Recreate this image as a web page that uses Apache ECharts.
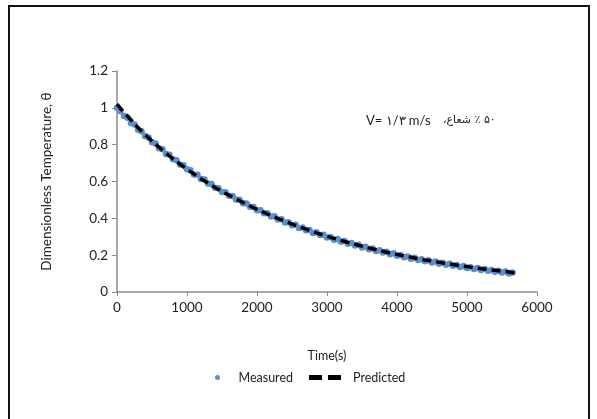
<!DOCTYPE html>
<html>
<head>
<meta charset="utf-8">
<script src="https://cdn.jsdelivr.net/npm/echarts@6/dist/echarts.min.js"></script>
<style>html,body{margin:0;padding:0;background:#fff}#c{width:597px;height:419px}</style>
</head>
<body>
<div id="c"></div>
<script>
// Measured data (time in s, dimensionless temperature)
const measuredTime = [0,50,100,150,200,250,300,350,400,450,500,550,600,650,700,750,800,850,900,950,
1000,1050,1100,1150,1200,1250,1300,1350,1400,1450,1500,1550,1600,1650,1700,1750,1800,1850,1900,1950,
2000,2050,2100,2150,2200,2250,2300,2350,2400,2450,2500,2550,2600,2650,2700,2750,2800,2850,2900,2950,
3000,3050,3100,3150,3200,3250,3300,3350,3400,3450,3500,3550,3600,3650,3700,3750,3800,3850,3900,3950,
4000,4050,4100,4150,4200,4250,4300,4350,4400,4450,4500,4550,4600,4650,4700,4750,4800,4850,4900,4950,
5000,5050,5100,5150,5200,5250,5300,5350,5400,5450,5500,5550,5600,5650];
const measuredTheta = [1.000,0.982,0.955,0.946,0.918,0.909,0.881,0.873,0.847,0.839,0.813,0.807,0.781,0.775,0.750,0.745,0.721,0.716,0.692,0.688,
0.666,0.661,0.638,0.636,0.613,0.611,0.589,0.587,0.566,0.564,0.543,0.542,0.522,0.521,0.502,0.501,0.482,0.481,0.463,0.462,
0.444,0.444,0.427,0.427,0.410,0.411,0.394,0.395,0.378,0.379,0.363,0.365,0.348,0.350,0.335,0.337,0.321,0.324,0.309,0.311,
0.296,0.299,0.284,0.288,0.273,0.277,0.262,0.266,0.252,0.256,0.242,0.246,0.232,0.236,0.223,0.227,0.214,0.218,0.205,0.210,
0.197,0.201,0.189,0.193,0.181,0.186,0.174,0.178,0.167,0.172,0.160,0.165,0.154,0.159,0.148,0.153,0.142,0.147,0.136,0.141,
0.130,0.135,0.125,0.130,0.120,0.125,0.115,0.120,0.110,0.116,0.106,0.111,0.101,0.106];
// Predicted model curve
const predictedTime = [0,100,200,300,400,500,600,700,800,900,1000,1100,1200,1300,1400,1500,1600,1700,1800,1900,
2000,2100,2200,2300,2400,2500,2600,2700,2800,2900,3000,3100,3200,3300,3400,3500,3600,3700,3800,3900,
4000,4100,4200,4300,4400,4500,4600,4700,4800,4900,5000,5100,5200,5300,5400,5500,5600,5700];
const predictedTheta = [1.020,0.975,0.935,0.893,0.855,0.820,0.786,0.754,0.723,0.694,0.666,0.640,0.615,0.591,0.568,0.546,0.525,0.505,0.486,0.467,
0.449,0.432,0.415,0.399,0.384,0.369,0.355,0.341,0.328,0.315,0.303,0.291,0.280,0.269,0.259,0.249,0.239,0.230,0.221,0.212,
0.204,0.196,0.189,0.181,0.174,0.168,0.161,0.155,0.149,0.143,0.138,0.132,0.127,0.122,0.118,0.113,0.109,0.100];
const seriesNames = ['Measured','Predicted'];
const xTitle = 'Time(s)';
const yTitle = 'Dimensionless Temperature, \u03B8';
const noteLeft = 'V= \u06F1/\u06F3 m/s';
const noteRight = '\u202B\u06F5\u06F0 \u066A \u0634\u0639\u0627\u0639\u060C\u202C';

const FONT = 'Lato';
const chart = echarts.init(document.getElementById('c'), null, {renderer:'canvas'});
const axisGray = '#8a8a8a';
chart.setOption({
  animation:false,
  backgroundColor:'#fff',
  textStyle:{fontFamily:FONT},
  grid:{left:117, right:60, top:71, bottom:127},
  xAxis:{type:'value', min:0, max:6000, interval:1000,
    axisLine:{show:true, lineStyle:{color:axisGray, width:1.5}},
    axisTick:{show:true, length:4, lineStyle:{color:axisGray}},
    splitLine:{show:false},
    axisLabel:{color:'#222', fontSize:13.5, fontFamily:FONT, margin:9, formatter:v=>String(v)},
    name:xTitle, nameLocation:'middle', nameGap:57,
    nameTextStyle:{color:'#222', fontSize:12.5, fontFamily:FONT}},
  yAxis:{type:'value', min:0, max:1.2, interval:0.2,
    axisLine:{show:true, lineStyle:{color:axisGray, width:1.5}},
    axisTick:{show:true, length:5, lineStyle:{color:axisGray}},
    splitLine:{show:false},
    axisLabel:{color:'#222', fontSize:13.5, fontFamily:FONT, margin:9},
    name:yTitle, nameLocation:'middle', nameGap:63, nameRotate:90,
    nameTextStyle:{color:'#222', fontSize:13.5, fontFamily:FONT}},
  legend:{bottom:30, left:210, itemGap:16, itemWidth:32, itemHeight:5,
    formatter: name => name === seriesNames[1] ? '{p|' + name + '}' : name,
    textStyle:{color:'#222', fontSize:12.5, fontFamily:FONT,
      rich:{p:{padding:[0,0,0,7], fontSize:12.5, fontFamily:FONT, color:'#222'}}},
    data:[{name:seriesNames[0], icon:'circle'},
          {name:seriesNames[1], icon:'path://M0,0H13V5H0Z M19,0H32V5H19Z'}]},
  series:[
    {name:seriesNames[0], type:'scatter', symbol:'circle', symbolSize:6.5,
     itemStyle:{color:'#5d8ec9', opacity:1},
     data:measuredTime.map((t,i)=>[t, measuredTheta[i]])},
    {name:seriesNames[1], type:'line', symbol:'none', smooth:true,
     lineStyle:{color:'#000', width:3.5, type:[9,5]},
     itemStyle:{color:'#000'},
     data:predictedTime.map((t,i)=>[t, predictedTheta[i]])}
  ],
  graphic:[
    {type:'rect', shape:{x:9, y:6, width:580, height:440}, style:{fill:null, stroke:'#111', lineWidth:2}, silent:true},
    {type:'text', left:366, top:114, style:{text:noteLeft, font:'13px '+FONT, fill:'#222'}},
    {type:'text', left:443, top:115, style:{text:noteRight, font:'11px "DejaVu Sans"', fill:'#222'}}
  ]
});
</script>
</body>
</html>
